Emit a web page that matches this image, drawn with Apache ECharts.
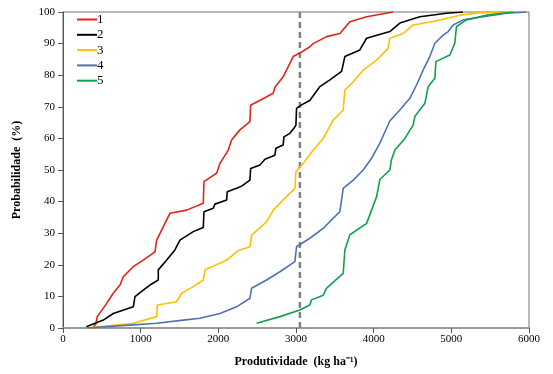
<!DOCTYPE html>
<html><head><meta charset="utf-8">
<script src="https://cdn.jsdelivr.net/npm/echarts@6/dist/echarts.min.js"></script>
<style>html,body{margin:0;padding:0;background:#fff}#c{width:553px;height:374px}</style>
</head><body><div id="c"></div>
<script>
const seriesNames = ['1','2','3','4','5'];
const s1 = [[390,0],[425,1.5],[441,3.6],[562,7.8],[647,11],[734,13.6],[776,16.2],[905,19.4],[1033,21.5],[1184,24.1],[1206,27.8],[1270,31],[1335,34.2],[1377,36.3],[1592,37.3],[1806,39.5],[1815,46.3],[1978,49],[2021,52.1],[2128,56.3],[2171,59.5],[2278,62.7],[2407,65.3],[2416,70.5],[2707,74.3],[2728,76.2],[2835,79.5],[2900,82.7],[2964,85.9],[3050,87],[3178,89],[3222,90],[3394,92.2],[3565,93.2],[3694,96.9],[3909,98.5],[4250,100]];
const s2 = [[300,0.4],[519,2.5],[647,4.6],[905,6.7],[927,9.9],[1033,12],[1120,13.6],[1227,15.2],[1227,18.4],[1335,21.5],[1441,24.7],[1506,27.8],[1677,30.5],[1806,31.8],[1815,36.8],[1935,37.9],[1956,39.2],[2107,40.5],[2115,43.1],[2235,44.2],[2300,44.9],[2407,46.8],[2416,50.5],[2535,51.6],[2600,53.4],[2728,54.7],[2741,56.9],[2835,57.9],[2844,60.5],[2921,61.6],[2973,63.2],[2999,64.2],[3007,69.5],[3071,70.6],[3178,72],[3308,76.4],[3436,78.5],[3587,81.2],[3629,85.9],[3822,88],[3909,91.7],[4208,93.8],[4337,96.5],[4595,98.5],[4938,99.6],[5150,100]];
const s3 = [[305,0],[905,1.5],[1206,3.6],[1214,7.3],[1463,8.3],[1527,11],[1677,13.1],[1806,15.2],[1828,18.4],[2107,21.5],[2256,24.5],[2407,25.7],[2428,29.4],[2621,33.6],[2707,37.3],[2793,39.5],[2986,44.2],[2999,49.5],[3093,52.1],[3222,56.3],[3350,60],[3479,65.8],[3608,69],[3629,75.3],[3737,77.9],[3865,81.6],[4037,84.8],[4187,88.5],[4208,91.7],[4380,93.2],[4508,95.9],[4766,97],[5112,99],[5367,99.8],[5985,100]];
const s4 = [[305,0],[905,1],[1206,1.5],[1548,2.5],[1763,3.1],[2021,4.6],[2235,6.7],[2407,9.4],[2428,12.6],[2621,15.2],[2793,17.8],[2986,21],[3007,25.7],[3178,28.4],[3350,31.5],[3458,34.2],[3565,36.8],[3608,44.2],[3737,46.8],[3865,50],[3973,53.7],[4080,58.5],[4166,63.2],[4208,65.5],[4337,69],[4466,72.7],[4552,76.9],[4637,81.6],[4723,85.9],[4788,90.1],[4895,92.7],[4959,93.8],[5023,95.9],[5152,97.5],[5409,98.5],[5710,99.6],[5968,100]];
const s5 = [[2493,1.5],[2793,3.6],[3050,5.7],[3178,7.3],[3200,8.9],[3351,10.4],[3394,12.6],[3608,17.3],[3629,24.7],[3694,29.5],[3909,33.1],[3973,37.3],[4037,41.5],[4080,47],[4208,50],[4229,53.2],[4273,56.3],[4402,60],[4508,64.2],[4530,66.9],[4659,71.1],[4702,76.4],[4788,79],[4801,84.3],[4981,86.4],[5045,90.1],[5066,95.4],[5195,97.5],[5452,99],[5795,100]];
const refX = 3050;
const colors = ['#e2231a','#000000','#ffc000','#4f73b0','#10a04f'];
const xTicks = [0,1000,2000,3000,4000,5000,6000];
const yTicks = [0,10,20,30,40,50,60,70,80,90,100];
const all = [s1,s2,s3,s4,s5];
const font = 'Liberation Serif';
const chart = echarts.init(document.getElementById('c'));
const series = all.map((d,i)=>({name:seriesNames[i],type:'line',data:d,showSymbol:false,symbol:'none',lineStyle:{width:1.6,color:colors[i]},itemStyle:{color:colors[i]},z:3}));
series.push({name:'ref',type:'line',data:[[refX,0],[refX,100]],showSymbol:false,symbol:'none',lineStyle:{width:2.5,color:'#808080',type:[6,4]},z:2});
chart.setOption({
  animation:false,
  grid:{left:63,right:24,top:12,bottom:46,show:true,borderColor:'#707070',borderWidth:1},
  legend:{data:seriesNames,orient:'vertical',left:77,top:13,padding:0,icon:'rect',itemWidth:20,itemHeight:2,itemGap:2.3,
    textStyle:{fontFamily:font,fontSize:13,color:'#000',padding:[0,0,0,-5],lineHeight:13}},
  xAxis:{type:'value',min:0,max:6000,interval:1000,name:'Produtividade  (kg ha⁻¹)',nameLocation:'middle',nameGap:28,
    nameTextStyle:{fontFamily:font,fontSize:12,fontWeight:'bold',color:'#000'},
    axisLine:{lineStyle:{color:'#9a9a9a',width:2}},axisTick:{show:true,length:5,lineStyle:{color:'#555'}},
    axisLabel:{fontFamily:font,fontSize:11,color:'#000',margin:6,formatter:v=>xTicks.includes(v)?String(v):''},splitLine:{show:false}},
  yAxis:{type:'value',min:0,max:100,interval:10,name:'Probabilidade  (%)',nameLocation:'middle',nameGap:40,nameRotate:90,
    nameTextStyle:{fontFamily:font,fontSize:12,fontWeight:'bold',color:'#000'},
    axisLine:{show:true,lineStyle:{color:'#555',width:1}},axisTick:{show:true,length:5,lineStyle:{color:'#555'}},
    axisLabel:{fontFamily:font,fontSize:11,color:'#000',margin:8,formatter:v=>yTicks.includes(v)?String(v):''},splitLine:{show:false}},
  series:series
});
</script></body></html>
